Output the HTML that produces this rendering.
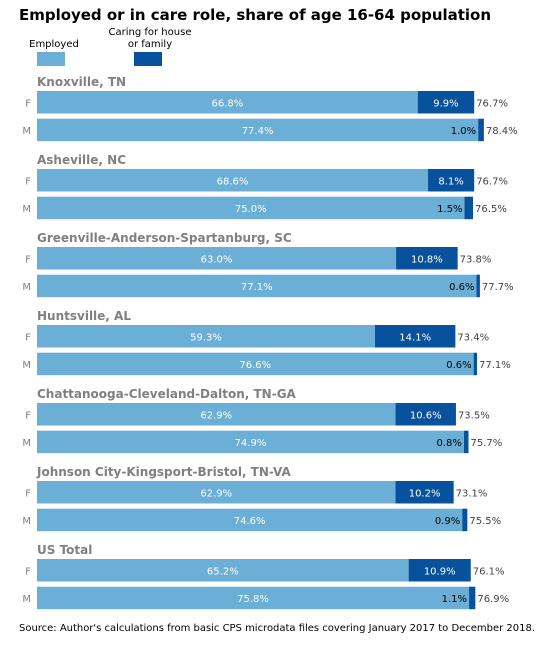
<!DOCTYPE html>
<html><head><meta charset="utf-8">
<style>
body{margin:0;background:#fff;font-family:"Liberation Sans","DejaVu Sans",sans-serif;}
svg text{font-family:"DejaVu Sans","Liberation Sans",sans-serif;}
</style></head>
<body>
<svg id="c" width="545" height="646" xmlns="http://www.w3.org/2000/svg">
<text x="19" y="20" font-size="15" font-weight="bold" fill="#000" textLength="472">Employed or in care role, share of age 16-64 population</text>
<g>
<text x="54" y="47" font-size="10" text-anchor="middle">Employed</text>
<rect x="37" y="52" width="28" height="14" fill="#6baed6"/>
<text x="150" y="35" font-size="10" text-anchor="middle"><tspan x="150">Caring for house</tspan><tspan x="150" dy="12">or family</tspan></text>
<rect x="134" y="52" width="28" height="14" fill="#08519c"/>
</g>
<g id="bars"></g>
<text x="19" y="631" font-size="10" fill="#000" textLength="516">Source: Author's calculations from basic CPS microdata files covering January 2017 to December 2018.</text>
</svg>
<script>
const groups=["Knoxville, TN","Asheville, NC","Greenville-Anderson-Spartanburg, SC","Huntsville, AL","Chattanooga-Cleveland-Dalton, TN-GA","Johnson City-Kingsport-Bristol, TN-VA","US Total"];
const sexes=["F","M"];
const employed=[[66.8,77.4],[68.6,75.0],[63.0,77.1],[59.3,76.6],[62.9,74.9],[62.9,74.6],[65.2,75.8]];
const caring=[[9.9,1.0],[8.1,1.5],[10.8,0.6],[14.1,0.6],[10.6,0.8],[10.2,0.9],[10.9,1.1]];
const totals=[[76.7,78.4],[76.7,76.5],[73.8,77.7],[73.4,77.1],[73.5,75.7],[73.1,75.5],[76.1,76.9]];
const NS="http://www.w3.org/2000/svg";
const g=document.getElementById('bars');
const x0=37,k=5.7;
const xs=v=>x0+v*k;
function mk(t,a){const e=document.createElementNS(NS,t);for(const n in a)e.setAttribute(n,a[n]);g.appendChild(e);return e;}
groups.forEach((name,i)=>{
  const gy=91+i*78;
  const t=mk('text',{x:37,y:gy-5,'font-size':12,'font-weight':'bold',fill:'#808080'});
  t.textContent=name;
  
  
  sexes.forEach((s,j)=>{
    const y=gy+j*27.7,h=22.5;
    const e=employed[i][j],c=caring[i][j],tot=totals[i][j];
    const sl=mk('text',{x:31,y:y+h/2+4,'font-size':10,fill:'#808080','text-anchor':'end'});sl.textContent=s;
    
    
    const r1=mk('rect',{x:xs(0),y:y,width:xs(e)-xs(0),height:h,fill:'#6baed6'});
    
    
    const r2=mk('rect',{x:xs(e),y:y,width:xs(e+c)-xs(e),height:h,fill:'#08519c'});
    
    
    const l1=mk('text',{x:(xs(0)+xs(e))/2,y:y+h/2+4,'font-size':10,fill:'#fff','text-anchor':'middle'});l1.textContent=e.toFixed(1)+'%';
    
    
    let l2;
    if(c>=5){l2=mk('text',{x:(xs(e)+xs(e+c))/2,y:y+h/2+4,'font-size':10,fill:'#fff','text-anchor':'middle'});}
    else{l2=mk('text',{x:xs(e)-2,y:y+h/2+4,'font-size':10,fill:'#000','text-anchor':'end'});}
    l2.textContent=c.toFixed(1)+'%';
    
    
    const l3=mk('text',{x:xs(e+c)+2,y:y+h/2+4,'font-size':10,fill:'#444'});l3.textContent=tot.toFixed(1)+'%';
    
    
  });
});
</script>
</body></html>
